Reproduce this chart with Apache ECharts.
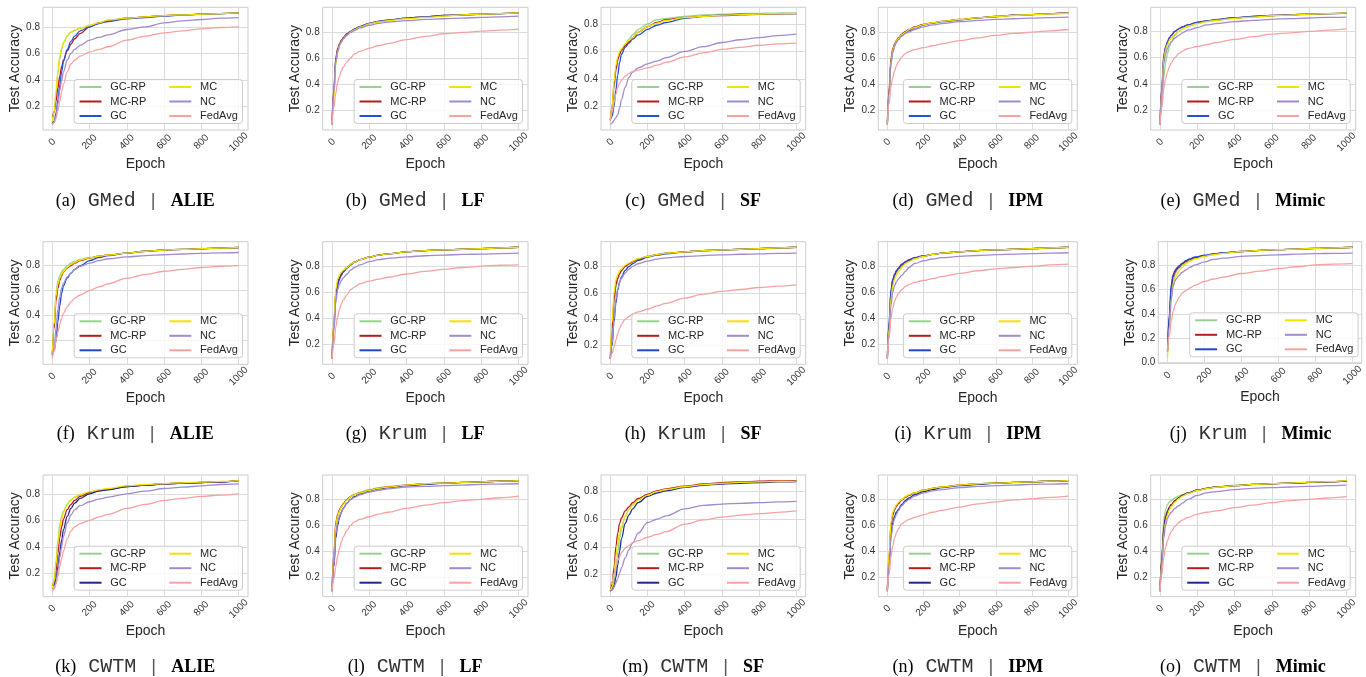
<!DOCTYPE html>
<html><head><meta charset="utf-8">
<script src="https://cdn.jsdelivr.net/npm/echarts@6/dist/echarts.min.js"></script>
<style>html,body{margin:0;padding:0;background:#fff}#chart{width:1366px;height:677px}</style>
</head><body><div id="chart"></div>
<script>
// ---------- data ----------
const epochs = [0,10,20,30,40,50,60,80,100,120,150,200,250,300,400,500,600,700,800,900,1000];
const seriesNames = ['GC-RP','MC-RP','GC','MC','NC','FedAvg'];
const aggregators = ['GMed','Krum','CWTM'];
const attacks = ['ALIE','LF','SF','IPM','Mimic'];
const panelLetters = ['a','b','c','d','e','f','g','h','i','j','k','l','m','n','o'];
const xTicks = [0,200,400,600,800,1000];
const yTickCandidates = [0,0.2,0.4,0.6,0.8,1.0];

// each panel: rows in order GC-RP, MC-RP, GC, MC, NC, FedAvg
const GMed_ALIE = [
 [.07,.15,.30,.45,.56,.63,.68,.73,.76,.775,.79,.81,.83,.85,.865,.875,.885,.89,.895,.90,.905],
 [.12,.16,.24,.34,.43,.50,.55,.62,.67,.71,.75,.80,.83,.845,.865,.875,.885,.89,.895,.90,.905],
 [.07,.09,.15,.25,.36,.46,.54,.63,.69,.73,.77,.80,.825,.84,.86,.87,.88,.89,.895,.90,.905],
 [.09,.16,.32,.47,.58,.64,.68,.73,.76,.775,.79,.81,.83,.85,.865,.875,.885,.89,.895,.90,.905],
 [.065,.08,.13,.22,.32,.40,.46,.55,.60,.63,.66,.70,.72,.74,.78,.80,.83,.845,.855,.865,.87],
 [.065,.075,.11,.17,.24,.31,.37,.46,.52,.55,.58,.61,.63,.65,.70,.73,.755,.77,.785,.795,.80]];
const GMed_LF = [
 [.09,.35,.58,.66,.70,.73,.75,.78,.80,.82,.84,.865,.88,.89,.905,.915,.925,.93,.935,.94,.945],
 [.10,.37,.60,.67,.71,.735,.755,.785,.805,.82,.84,.865,.88,.89,.905,.915,.925,.93,.935,.94,.945],
 [.09,.33,.57,.65,.70,.725,.75,.78,.80,.82,.84,.865,.88,.89,.905,.915,.925,.93,.935,.94,.945],
 [.10,.30,.55,.64,.69,.72,.745,.775,.80,.815,.835,.86,.875,.885,.90,.91,.92,.93,.935,.94,.945],
 [.09,.34,.57,.65,.70,.725,.745,.775,.795,.81,.83,.85,.865,.875,.885,.895,.90,.905,.91,.915,.92],
 [.09,.22,.33,.41,.46,.50,.53,.57,.60,.63,.65,.675,.695,.71,.74,.765,.785,.795,.805,.813,.82]];
const GMed_SF = [
 [.10,.18,.33,.45,.53,.58,.61,.65,.69,.72,.76,.80,.83,.84,.855,.865,.87,.875,.877,.879,.88],
 [.10,.20,.36,.47,.54,.58,.61,.64,.67,.70,.74,.78,.81,.83,.845,.855,.86,.865,.87,.873,.875],
 [.10,.13,.20,.32,.43,.52,.58,.63,.66,.69,.72,.76,.79,.81,.84,.855,.865,.87,.872,.874,.875],
 [.10,.20,.38,.50,.56,.60,.62,.655,.68,.70,.74,.78,.805,.825,.845,.855,.863,.868,.872,.875,.877],
 [.07,.08,.10,.12,.14,.19,.25,.34,.41,.45,.48,.51,.53,.555,.60,.635,.665,.685,.70,.715,.725],
 [.10,.16,.23,.29,.34,.37,.39,.42,.44,.455,.465,.48,.50,.52,.56,.59,.615,.63,.645,.655,.66]];
const GMed_IPM = [
 [.09,.35,.58,.66,.70,.73,.75,.78,.80,.82,.835,.855,.87,.88,.895,.91,.92,.93,.935,.942,.948],
 [.10,.37,.60,.67,.71,.735,.755,.785,.805,.82,.84,.86,.872,.882,.897,.91,.92,.93,.935,.942,.948],
 [.09,.33,.57,.65,.70,.725,.745,.775,.795,.81,.83,.855,.87,.88,.895,.91,.92,.93,.935,.942,.948],
 [.10,.32,.57,.66,.70,.73,.75,.78,.80,.82,.835,.858,.872,.882,.897,.91,.92,.928,.935,.94,.945],
 [.09,.33,.56,.64,.69,.72,.74,.77,.79,.80,.82,.84,.855,.865,.88,.89,.898,.903,.908,.912,.915],
 [.09,.25,.38,.45,.50,.54,.57,.61,.635,.65,.665,.68,.695,.71,.735,.755,.775,.79,.80,.81,.82]];
const GMed_Mimic = [
 [.09,.25,.45,.56,.63,.68,.72,.77,.80,.82,.84,.86,.875,.885,.90,.91,.92,.925,.93,.935,.94],
 [.10,.38,.62,.68,.72,.75,.77,.80,.82,.835,.85,.87,.88,.89,.905,.915,.922,.928,.933,.937,.94],
 [.09,.36,.60,.68,.72,.75,.77,.80,.82,.835,.85,.87,.88,.89,.905,.915,.922,.928,.933,.937,.94],
 [.10,.33,.58,.66,.70,.73,.75,.78,.80,.82,.84,.86,.875,.885,.90,.91,.92,.925,.932,.937,.942],
 [.09,.32,.55,.63,.67,.70,.72,.75,.77,.79,.81,.83,.85,.86,.875,.885,.893,.898,.903,.907,.91],
 [.09,.22,.36,.44,.49,.53,.56,.60,.63,.65,.67,.685,.70,.715,.74,.76,.78,.79,.80,.81,.82]];
const Krum_ALIE = [
 [.08,.35,.58,.68,.72,.75,.77,.80,.82,.835,.85,.865,.875,.885,.90,.915,.925,.93,.935,.94,.945],
 [.09,.30,.52,.62,.68,.72,.75,.78,.80,.82,.84,.86,.875,.885,.90,.915,.925,.93,.935,.94,.945],
 [.09,.12,.20,.35,.48,.58,.64,.70,.74,.77,.80,.84,.865,.88,.90,.915,.925,.93,.935,.94,.945],
 [.08,.33,.56,.65,.70,.73,.755,.785,.81,.825,.845,.862,.875,.885,.90,.915,.925,.93,.935,.94,.947],
 [.07,.15,.30,.45,.55,.62,.66,.71,.74,.77,.795,.82,.84,.855,.87,.88,.887,.893,.898,.902,.905],
 [.055,.12,.20,.27,.33,.38,.42,.47,.51,.54,.565,.60,.63,.655,.70,.73,.755,.77,.785,.795,.80]];
const Krum_LF = [
 [.09,.35,.58,.67,.71,.74,.76,.79,.815,.83,.85,.87,.885,.895,.91,.92,.925,.93,.935,.94,.945],
 [.10,.36,.60,.67,.71,.74,.76,.79,.815,.83,.85,.87,.885,.895,.91,.92,.925,.93,.935,.94,.945],
 [.09,.33,.56,.65,.70,.73,.755,.785,.81,.83,.85,.87,.885,.895,.91,.92,.925,.93,.935,.94,.945],
 [.10,.37,.62,.70,.735,.755,.77,.79,.815,.83,.85,.87,.885,.895,.91,.92,.925,.93,.935,.94,.945],
 [.09,.30,.52,.62,.66,.69,.71,.74,.77,.79,.81,.835,.85,.86,.872,.88,.885,.89,.893,.897,.90],
 [.09,.20,.33,.41,.47,.51,.54,.58,.62,.64,.665,.685,.70,.715,.74,.76,.775,.79,.80,.807,.81]];
const Krum_SF = [
 [.10,.30,.52,.64,.70,.74,.765,.80,.82,.835,.855,.875,.89,.90,.91,.92,.925,.93,.935,.94,.945],
 [.10,.33,.55,.66,.71,.745,.77,.80,.82,.835,.855,.875,.89,.90,.91,.92,.925,.93,.935,.94,.945],
 [.10,.20,.38,.52,.62,.68,.72,.77,.80,.82,.845,.87,.885,.895,.91,.92,.925,.93,.935,.94,.945],
 [.11,.38,.60,.70,.74,.765,.78,.81,.825,.84,.86,.875,.89,.90,.91,.92,.925,.93,.935,.94,.945],
 [.10,.22,.40,.55,.63,.68,.71,.75,.78,.80,.82,.84,.855,.865,.875,.882,.888,.892,.895,.898,.90],
 [.10,.14,.19,.24,.29,.33,.36,.40,.42,.44,.455,.475,.50,.52,.56,.59,.61,.625,.64,.65,.66]];
const Krum_IPM = [
 [.09,.33,.57,.67,.72,.75,.77,.80,.83,.845,.86,.875,.89,.90,.91,.92,.925,.93,.935,.94,.945],
 [.10,.36,.60,.69,.73,.76,.78,.81,.83,.845,.86,.875,.89,.90,.91,.92,.925,.93,.935,.94,.945],
 [.09,.38,.62,.70,.74,.765,.785,.815,.835,.85,.865,.88,.89,.90,.91,.92,.925,.93,.935,.94,.945],
 [.10,.32,.55,.65,.70,.73,.755,.79,.82,.835,.855,.875,.89,.90,.91,.92,.925,.93,.935,.94,.945],
 [.09,.28,.50,.60,.65,.68,.70,.73,.76,.79,.82,.84,.855,.865,.875,.882,.888,.893,.897,.90,.903],
 [.09,.25,.40,.48,.53,.56,.59,.62,.645,.66,.675,.69,.705,.72,.745,.765,.78,.79,.80,.81,.815]];
const Krum_Mimic = [
 [.09,.35,.58,.67,.72,.75,.77,.80,.82,.835,.855,.87,.885,.895,.91,.92,.925,.93,.935,.94,.945],
 [.10,.38,.62,.70,.74,.765,.78,.81,.83,.845,.86,.875,.89,.90,.91,.92,.925,.93,.935,.94,.945],
 [.10,.40,.64,.72,.755,.775,.79,.815,.835,.85,.865,.88,.89,.90,.91,.92,.925,.93,.935,.94,.945],
 [.04,.28,.52,.63,.69,.72,.745,.78,.81,.83,.85,.87,.885,.895,.91,.92,.925,.93,.935,.94,.945],
 [.09,.30,.52,.62,.67,.69,.71,.74,.76,.78,.80,.825,.845,.855,.87,.877,.883,.888,.892,.895,.897],
 [.10,.22,.34,.42,.47,.50,.53,.57,.59,.61,.635,.665,.685,.70,.73,.75,.77,.785,.80,.807,.81]];
const CWTM_ALIE = [
 [.08,.15,.30,.45,.57,.63,.67,.72,.755,.775,.79,.81,.825,.835,.855,.865,.875,.88,.885,.89,.90],
 [.10,.13,.22,.35,.47,.55,.61,.68,.72,.75,.78,.81,.825,.835,.855,.865,.875,.88,.885,.89,.90],
 [.10,.11,.16,.25,.36,.45,.53,.63,.69,.73,.765,.80,.82,.83,.855,.865,.875,.88,.885,.89,.90],
 [.09,.14,.27,.42,.54,.61,.66,.72,.755,.775,.795,.815,.83,.84,.86,.87,.877,.883,.888,.893,.90],
 [.08,.09,.13,.22,.32,.40,.48,.58,.64,.68,.71,.74,.76,.775,.80,.82,.84,.85,.86,.87,.875],
 [.065,.08,.12,.18,.25,.31,.37,.46,.52,.55,.575,.60,.625,.645,.69,.72,.75,.765,.78,.79,.80]];
const CWTM_LF = [
 [.09,.33,.57,.66,.71,.74,.765,.80,.825,.84,.855,.875,.89,.90,.91,.92,.925,.93,.935,.94,.945],
 [.10,.38,.62,.68,.72,.745,.765,.80,.82,.835,.85,.87,.885,.895,.91,.92,.925,.93,.935,.94,.945],
 [.09,.28,.50,.60,.66,.70,.73,.77,.80,.82,.84,.865,.88,.89,.905,.915,.925,.93,.935,.94,.945],
 [.10,.35,.60,.67,.71,.74,.76,.795,.82,.835,.85,.87,.885,.895,.91,.92,.925,.93,.935,.94,.945],
 [.09,.30,.53,.62,.67,.70,.73,.77,.80,.815,.835,.855,.87,.88,.895,.90,.905,.91,.915,.918,.92],
 [.09,.18,.28,.36,.42,.47,.51,.56,.60,.625,.645,.665,.685,.70,.73,.755,.775,.79,.80,.812,.825]];
const CWTM_SF = [
 [.08,.10,.15,.24,.36,.46,.53,.62,.67,.71,.745,.78,.80,.815,.835,.85,.86,.865,.87,.873,.875],
 [.08,.13,.25,.40,.50,.57,.61,.66,.69,.72,.75,.78,.805,.82,.84,.855,.865,.87,.875,.878,.88],
 [.08,.09,.12,.18,.27,.37,.46,.57,.63,.675,.72,.765,.79,.805,.83,.845,.855,.86,.865,.87,.873],
 [.08,.11,.20,.33,.43,.50,.55,.62,.67,.70,.74,.775,.80,.815,.835,.85,.86,.866,.87,.873,.876],
 [.08,.09,.11,.14,.17,.21,.25,.32,.38,.43,.50,.575,.60,.625,.675,.70,.71,.715,.72,.725,.73],
 [.12,.15,.20,.26,.30,.33,.36,.39,.41,.43,.445,.47,.49,.51,.565,.595,.615,.63,.64,.65,.66]];
const CWTM_IPM = [
 [.09,.35,.60,.68,.72,.75,.77,.80,.82,.835,.85,.87,.885,.895,.91,.92,.925,.93,.935,.94,.945],
 [.10,.36,.60,.68,.72,.745,.765,.795,.815,.83,.85,.87,.885,.895,.91,.92,.925,.93,.935,.94,.945],
 [.09,.30,.52,.62,.67,.70,.72,.76,.79,.81,.835,.86,.875,.89,.905,.915,.925,.93,.935,.94,.945],
 [.10,.38,.62,.70,.73,.755,.775,.80,.82,.835,.85,.87,.885,.895,.91,.92,.925,.93,.935,.94,.945],
 [.09,.28,.50,.60,.65,.68,.71,.75,.78,.80,.825,.85,.865,.875,.89,.90,.905,.91,.915,.918,.92],
 [.09,.22,.36,.44,.50,.54,.57,.61,.63,.645,.66,.68,.70,.715,.74,.765,.78,.795,.805,.815,.825]];
const CWTM_Mimic = [
 [.09,.38,.64,.72,.76,.78,.79,.81,.825,.835,.85,.87,.885,.895,.91,.915,.92,.925,.93,.935,.94],
 [.10,.35,.58,.67,.71,.74,.76,.79,.81,.83,.85,.87,.885,.895,.905,.915,.92,.925,.93,.935,.94],
 [.09,.33,.56,.65,.70,.73,.75,.785,.81,.83,.85,.87,.885,.895,.905,.915,.92,.925,.93,.935,.94],
 [.10,.30,.53,.63,.68,.72,.745,.78,.805,.825,.845,.868,.883,.893,.905,.915,.92,.925,.932,.937,.945],
 [.09,.28,.50,.60,.65,.68,.70,.73,.75,.77,.80,.83,.85,.86,.875,.885,.89,.895,.90,.905,.91],
 [.09,.22,.35,.43,.48,.52,.55,.59,.62,.64,.66,.685,.70,.71,.735,.755,.775,.79,.80,.81,.82]];

const panelData = {
  GMed: {ALIE: GMed_ALIE, LF: GMed_LF, SF: GMed_SF, IPM: GMed_IPM, Mimic: GMed_Mimic},
  Krum: {ALIE: Krum_ALIE, LF: Krum_LF, SF: Krum_SF, IPM: Krum_IPM, Mimic: Krum_Mimic},
  CWTM: {ALIE: CWTM_ALIE, LF: CWTM_LF, SF: CWTM_SF, IPM: CWTM_IPM, Mimic: CWTM_Mimic}
};

// ---------- layout & style ----------
const W = 1366, H = 677;
const cols = [{left:43,width:205},{left:322.7,width:205.3},{left:601,width:204.7},{left:878.3,width:199},{left:1150.7,width:205}];
const rows = [{top:7.3,height:122.7,cap:201},{top:241.7,height:122.6,cap:434},{top:475,height:121.7,cap:667}];
const colors = ['#98d18f','#b51c1c','#2452d6','#f2e200','#a08bd0','#f7a1a1'];
const gcRowColors = ['#2452d6','#2447c8','#1b2a8c'];
const colA = ['GC-RP','MC-RP','GC'];
const SANS = 'Liberation Sans';

const option = {animation:false, grid:[], xAxis:[], yAxis:[], series:[], legend:[], graphic:[]};

aggregators.forEach((agg, r) => {
  attacks.forEach((att, c) => {
    const idx = r*5 + c;
    const data = panelData[agg][att];
    let g = {left: cols[c].left, width: cols[c].width, top: rows[r].top, height: rows[r].height};
    if (r === 1 && c === 4) { g = {left:1158.3, width:205.3, top:241.7, height:121.6}; }
    let dmin = Infinity, dmax = -Infinity;
    data.forEach(s => s.forEach(v => { dmin = Math.min(dmin, v); dmax = Math.max(dmax, v); }));
    const span = dmax - dmin;
    const ymin = dmin - 0.05*span, ymax = dmax + 0.05*span;
    const yTicks = yTickCandidates.filter(v => v >= ymin - 1e-9 && v <= ymax + 1e-9);

    option.grid.push({left:g.left, top:g.top, width:g.width, height:g.height, show:true,
      backgroundColor:'#ffffff', borderColor:'#cccccc', borderWidth:1, containLabel:false});
    option.xAxis.push({gridIndex:idx, type:'value', min:-50, max:1050,
      axisLine:{show:false}, axisTick:{show:false, customValues:xTicks},
      axisLabel:{customValues:xTicks, formatter: v => String(v), rotate:45, align:'center', verticalAlign:'middle', margin:12,
        fontSize:10, color:'#333333', fontFamily:SANS},
      splitLine:{show:true, lineStyle:{color:'#dcdcdc', width:1}},
      name:'Epoch', nameLocation:'middle', nameGap:27,
      nameTextStyle:{fontSize:14, color:'#262626', fontFamily:SANS}});
    option.yAxis.push({gridIndex:idx, type:'value', min:ymin, max:ymax,
      axisLine:{show:false}, axisTick:{show:false, customValues:yTicks},
      axisLabel:{customValues:yTicks, formatter: v => v.toFixed(1), margin:3,
        fontSize:10, color:'#333333', fontFamily:SANS},
      splitLine:{show:true, lineStyle:{color:'#dcdcdc', width:1}},
      name:'Test Accuracy', nameLocation:'middle', nameGap:17, nameRotate:90,
      nameTextStyle:{fontSize:14, color:'#262626', fontFamily:SANS}});

    data.forEach((vals, k) => {
      const col = k === 2 ? gcRowColors[r] : colors[k];
      option.series.push({type:'line', name:seriesNames[k], xAxisIndex:idx, yAxisIndex:idx,
        data: epochs.map((e, i) => [e, vals[i]]), symbol:'none', showSymbol:false,
        smooth:0.35, smoothMonotone:'x', silent:true,
        lineStyle:{width:1.3, color:col}, itemStyle:{color:col}, z:2+k});
    });

    option.legend.push({orient:'vertical',
      right: W - (g.left + g.width) + 5.5, bottom: H - (g.top + g.height) + 6.5,
      height:44, itemGap:3.5, itemWidth:22, itemHeight:12, padding:[2,4.4,2,4.4],
      backgroundColor:'rgba(255,255,255,0.8)', borderColor:'#cccccc', borderWidth:1, borderRadius:3,
      selectedMode:false, z:10,
      data: seriesNames.map(n => n === 'GC' ? {name:n, lineStyle:{color:gcRowColors[r]}} : n),
      formatter: n => (colA.includes(n) ? '{s| }{a|' + n + '}' : '{s| }{b|' + n + '}'),
      itemStyle:{opacity:0},
      lineStyle:{width:2},
      textStyle:{fontSize:11, fontFamily:SANS, color:'#262626', rich:{
        s:{width:3.8, fontSize:11, lineHeight:12, fontFamily:SANS},
        a:{width:54.5, fontSize:11, lineHeight:12, fontFamily:SANS, color:'#262626'},
        b:{width:38, fontSize:11, lineHeight:12, fontFamily:SANS, color:'#262626'}}}});

    option.graphic.push({type:'text', x: g.left + 0.45*g.width, y: rows[r].cap, silent:true,
      style:{text:'{p|(' + panelLetters[idx] + ')}{sp| }{g|' + agg + '}{sp| }{bar||}{sp| }{b|' + att + '}',
        align:'center', verticalAlign:'middle',
        rich:{
          p:{fontFamily:'Liberation Serif', fontSize:18, fill:'#000', color:'#000'},
          sp:{width:12, fontSize:18},
          g:{fontFamily:'Liberation Mono', fontSize:20, fill:'#333', color:'#333'},
          bar:{fontFamily:'Liberation Mono', fontSize:18, fill:'#555', color:'#555'},
          b:{fontFamily:'Liberation Serif', fontSize:18, fontWeight:'bold', fill:'#000', color:'#000'}
        }}});
  });
});

const chart = echarts.init(document.getElementById('chart'), null, {renderer:'canvas', width:W, height:H});
chart.setOption(option);
</script></body></html>
